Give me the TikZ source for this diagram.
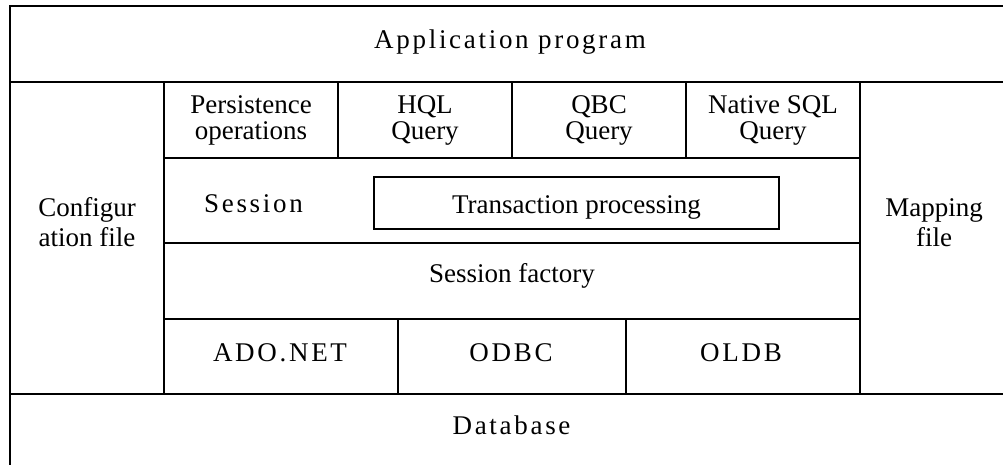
\documentclass[tikz,border=0pt]{standalone}
\usepackage{fontspec}
\setmainfont{Liberation Serif}
\newfontfamily\spacedfont{Liberation Serif}[LetterSpace=10]

\begin{document}
\begin{tikzpicture}[x=1pt, y=-1pt, line width=2.2pt,
  txt/.style={inner sep=0pt, anchor=base, align=center,
              font=\fontsize{27}{26}\selectfont},
  sptxt/.style={txt, font=\fontsize{27}{26}\selectfont\spacedfont},
  sidetxt/.style={txt, font=\fontsize{27}{30}\selectfont},
  frame/.style={draw, inner sep=0pt, line width=2.2pt}]
\useasboundingbox (0,0) rectangle (1003,465);

% outer frame and band separators
\draw (1003,6) -- (10,6) -- (10,465);
\draw (10,82) -- (1003,82);
\draw (10,394) -- (1003,394);

% side columns
\draw (164,82) -- (164,394);
\draw (860,82) -- (860,394);

% inner rows
\draw (164,158) -- (860,158);
\draw (164,243) -- (860,243);
\draw (164,319) -- (860,319);

% query cells
\draw (338,82) -- (338,158);
\draw (512,82) -- (512,158);
\draw (686,82) -- (686,158);

% driver cells
\draw (398,319) -- (398,394);
\draw (626,319) -- (626,394);

% transaction box
\node[frame, minimum width=405pt, minimum height=52pt] (tbox) at (576.5,203) {};

% labels (base anchor of a two-line label sits on its last line)
\node[sptxt] (app) at (510,48.5) {Application program};
\node[txt] (pers) at (251,139.3) {Persistence\\operations};
\node[txt] (hql) at (425,139.3) {HQL\\Query};
\node[txt] (qbc) at (599,139.3) {QBC\\Query};
\node[txt] (nsql) at (773,139.3) {Native SQL\\Query};
\node[sptxt, anchor=base west] (sess) at (203,212.7) {Session};
\node[txt] (trans) at (tbox.center |- 0,213.3) {Transaction processing};
\node[sidetxt] (conf) at (87,246) {Configur\\ation file};
\node[sidetxt] (map) at (934,246) {Mapping\\file};
\node[txt] (fact) at (512,282.3) {Session factory};
\node[sptxt] (ado) at (280,361.7) {ADO.NET};
\node[sptxt] (odbc) at (511,361.7) {ODBC};
\node[sptxt] (oldb) at (741,361.7) {OLDB};
\node[sptxt] (db) at (511.5,434.3) {Database};
\end{tikzpicture}
\end{document}
